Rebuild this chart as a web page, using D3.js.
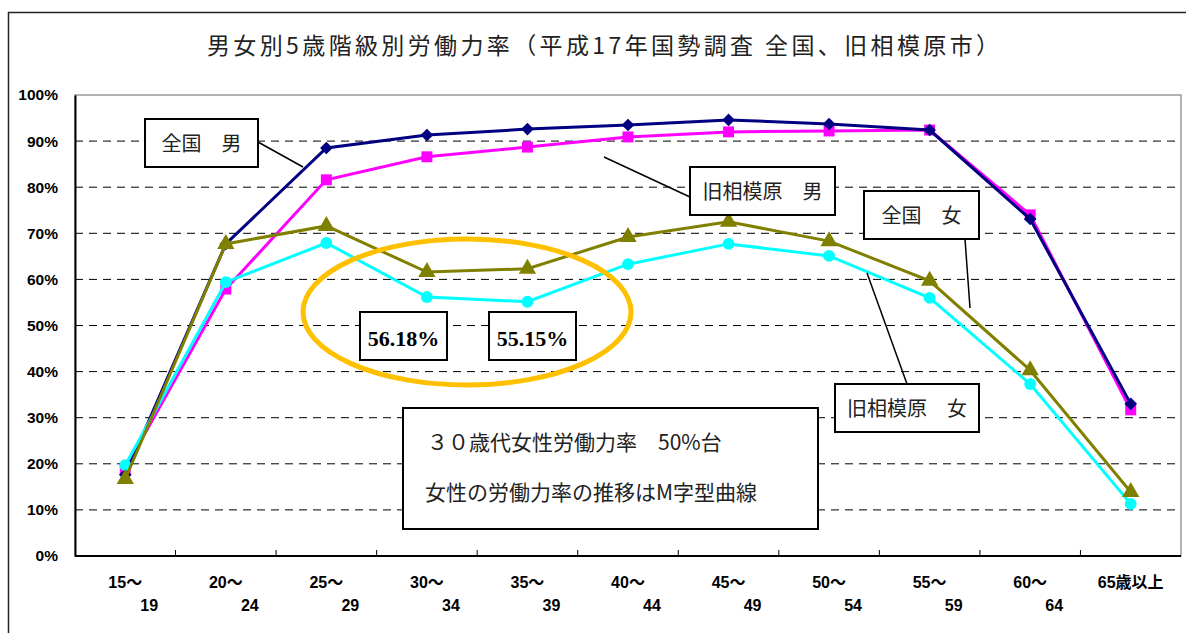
<!DOCTYPE html>
<html>
<head>
<meta charset="utf-8">
<script src="https://cdn.jsdelivr.net/npm/d3@7"></script>
<style>
  body { margin: 0; background: #fff; }
  svg { display: block; }
  .cjk { font-family: "Noto Sans CJK JP", "Noto Sans", sans-serif; }
</style>
</head>
<body>
<svg id="chart" width="1186" height="633"></svg>
<script>
// age groups (line 1 / line 2 of the tick label)
var ageTop = ["15～", "20～", "25～", "30～", "35～", "40～", "45～", "50～", "55～", "60～", "65歳以上"];
var ageBottom = ["19", "24", "29", "34", "39", "44", "49", "54", "59", "64", ""];
var yTicks = [0, 10, 20, 30, 40, 50, 60, 70, 80, 90, 100];

// labour force rate, %
var zenkokuMale   = [17.6, 67.7, 88.5, 91.3, 92.6, 93.5, 94.6, 93.7, 92.4, 73.1, 33.0];
var sagamiMale    = [19.0, 57.9, 81.6, 86.6, 88.7, 90.9, 92.0, 92.2, 92.4, 74.0, 31.7];
var zenkokuFemale = [16.7, 67.7, 71.6, 61.6, 62.3, 69.2, 72.5, 68.3, 59.7, 40.3, 13.9];
var sagamiFemale  = [19.7, 59.4, 67.9, 56.18, 55.15, 63.3, 67.7, 65.1, 56.0, 37.3, 11.3];

var svg = d3.select("#chart");
var margin = {top: 95, bottom: 77, left: 75, right: 5};
var width = 1186, height = 633;

// outer frame
svg.append("rect")
  .attr("x", 8.5).attr("y", 12.5)
  .attr("width", 1200).attr("height", 700)
  .attr("fill", "none").attr("stroke", "#222").attr("stroke-width", 1.5);

svg.append("text")
  .attr("class", "cjk")
  .attr("x", 207).attr("y", 54)
  .attr("font-size", 23).attr("fill", "#222")
  .attr("textLength", 792).attr("lengthAdjust", "spacing")
  .text("男女別5歳階級別労働力率（平成17年国勢調査 全国、旧相模原市）");

var xScale = d3.scaleBand()
  .domain(ageTop)
  .range([margin.left, width - margin.right]);
var yScale = d3.scaleLinear()
  .domain([0, 100])
  .range([height - margin.bottom, margin.top]);
function cx(i) { return xScale(ageTop[i]) + xScale.bandwidth() / 2; }

// plot border
svg.append("rect")
  .attr("x", xScale.range()[0]).attr("y", yScale(100))
  .attr("width", xScale.range()[1] - xScale.range()[0])
  .attr("height", yScale(0) - yScale(100))
  .attr("fill", "none").attr("stroke", "#999").attr("stroke-width", 1.5);

// gridlines
svg.append("g").selectAll("line")
  .data(yTicks.filter(function(d) { return d > 0 && d < 100; }))
  .enter().append("line")
  .attr("x1", xScale.range()[0]).attr("x2", xScale.range()[1])
  .attr("y1", function(d) { return yScale(d); })
  .attr("y2", function(d) { return yScale(d); })
  .attr("stroke", "#000").attr("stroke-width", 1)
  .attr("stroke-dasharray", "8,6");

// y axis
var yAxis = svg.append("g")
  .attr("transform", "translate(" + xScale.range()[0] + ",0)")
  .call(d3.axisLeft(yScale).tickValues(yTicks).tickSize(0).tickPadding(17)
    .tickFormat(function(d) { return d + "%"; }));
yAxis.select(".domain").attr("stroke", "#000").attr("stroke-width", 2);
yAxis.selectAll("text")
  .attr("font-family", "Liberation Sans, Arial, sans-serif")
  .attr("font-weight", "bold").attr("font-size", 15.5).attr("fill", "#000");

// x axis line + inner ticks at band boundaries
svg.append("line")
  .attr("x1", xScale.range()[0]).attr("x2", xScale.range()[1])
  .attr("y1", yScale(0)).attr("y2", yScale(0))
  .attr("stroke", "#000").attr("stroke-width", 2);
svg.append("g").selectAll("line")
  .data(ageTop.slice(1))
  .enter().append("line")
  .attr("x1", function(d) { return xScale(d); })
  .attr("x2", function(d) { return xScale(d); })
  .attr("y1", yScale(0)).attr("y2", yScale(0) - 6)
  .attr("stroke", "#000");

var xl = svg.append("g")
  .attr("font-family", "Liberation Sans, Noto Sans CJK JP, sans-serif")
  .attr("font-weight", "bold")
  .attr("font-size", 16).attr("fill", "#000");
xl.selectAll("text.t1")
  .data(ageTop).enter().append("text")
  .attr("class", "t1")
  .attr("x", function(d, i) { return cx(i); })
  .attr("y", 588)
  .attr("text-anchor", "middle")
  .text(function(d) { return d; });
xl.selectAll("text.t2")
  .data(ageBottom).enter().append("text")
  .attr("class", "t2")
  .attr("x", function(d, i) { return cx(i) + 24; })
  .attr("y", 611)
  .attr("text-anchor", "middle")
  .text(function(d) { return d; });

// series
var series = [
  {values: sagamiMale, color: "#ff00ff", symbol: d3.symbolSquare, size: 120, rot: 0},
  {values: zenkokuMale, color: "#000080", symbol: d3.symbolSquare, size: 80, rot: 45},
  {values: sagamiFemale, color: "#00ffff", symbol: d3.symbolCircle, size: 110, rot: 0},
  {values: zenkokuFemale, color: "#808000", symbol: d3.symbolTriangle, size: 130, rot: 0}
];
var line = d3.line()
  .x(function(d, i) { return cx(i); })
  .y(function(d) { return yScale(d); });

series.forEach(function(s) {
  svg.append("path")
    .datum(s.values)
    .attr("d", line)
    .attr("fill", "none")
    .attr("stroke", s.color)
    .attr("stroke-width", 3);
  svg.append("g").selectAll("path")
    .data(s.values).enter().append("path")
    .attr("transform", function(d, i) {
      return "translate(" + cx(i) + "," + yScale(d) + ") rotate(" + s.rot + ")";
    })
    .attr("d", d3.symbol().type(s.symbol).size(s.size))
    .attr("fill", s.color);
});

// orange ellipse
svg.append("ellipse")
  .attr("cx", 467).attr("cy", 312).attr("rx", 164).attr("ry", 73)
  .attr("fill", "none").attr("stroke", "#ffc000").attr("stroke-width", 5);

// callout labels
function callout(x, y, w, h, label, lx1, ly1, lx2, ly2) {
  svg.append("line")
    .attr("x1", lx1).attr("y1", ly1).attr("x2", lx2).attr("y2", ly2)
    .attr("stroke", "#000").attr("stroke-width", 1.5);
  svg.append("rect")
    .attr("x", x).attr("y", y).attr("width", w).attr("height", h)
    .attr("fill", "#fff").attr("stroke", "#000").attr("stroke-width", 2);
  svg.append("text")
    .attr("class", "cjk")
    .attr("x", x + w / 2).attr("y", y + h / 2 + 8)
    .attr("text-anchor", "middle")
    .attr("font-size", 20).attr("fill", "#222")
    .text(label);
}
callout(145, 119, 113, 48, "全国　男", 258, 142, 303, 167);
callout(690, 167, 145, 48, "旧相模原　男", 690, 197, 604, 157);
callout(864, 191, 115, 48, "全国　女", 965, 239, 970, 308);
callout(835, 384, 144, 48, "旧相模原　女", 907, 384, 867, 273);

// value labels
function valueBox(x, label) {
  svg.append("rect")
    .attr("x", x).attr("y", 312).attr("width", 87).attr("height", 48)
    .attr("fill", "#fff").attr("stroke", "#000").attr("stroke-width", 2);
  svg.append("text")
    .attr("x", x + 43.5).attr("y", 346)
    .attr("text-anchor", "middle")
    .attr("font-family", "Liberation Serif, DejaVu Serif, serif")
    .attr("font-weight", "bold").attr("font-size", 22).attr("fill", "#000")
    .text(label);
}
valueBox(360, "56.18%");
valueBox(489, "55.15%");

// note box
svg.append("rect")
  .attr("x", 403).attr("y", 408).attr("width", 415).attr("height", 121)
  .attr("fill", "#fff").attr("stroke", "#000").attr("stroke-width", 2);
svg.append("text")
  .attr("class", "cjk")
  .attr("x", 427).attr("y", 450)
  .attr("font-size", 21).attr("fill", "#222")
  .text("３０歳代女性労働力率　50%台");
svg.append("text")
  .attr("class", "cjk")
  .attr("x", 425).attr("y", 500)
  .attr("font-size", 21).attr("fill", "#222")
  .text("女性の労働力率の推移はM字型曲線");
</script>
</body>
</html>
